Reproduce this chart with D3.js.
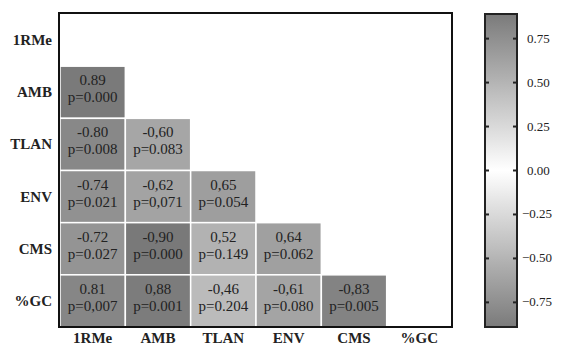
<!DOCTYPE html>
<html><head><meta charset="utf-8">
<script src="https://cdn.jsdelivr.net/npm/d3@7"></script>
<style>
html,body{margin:0;padding:0;background:#fff;overflow:hidden;}
svg{display:block;}
text{font-family:"Liberation Serif",Tinos,"Times New Roman",Times,serif;fill:#222;}
</style></head>
<body>
<svg id="chart" width="561" height="345"></svg>
<script>
const variables = ["1RMe","AMB","TLAN","ENV","CMS","%GC"];
// lower-triangle rows (row variable, then values for columns 0..row-1)
const rowAMB  = [0.89];
const rowTLAN = [-0.80, -0.60];
const rowENV  = [-0.74, -0.62, 0.65];
const rowCMS  = [-0.72, -0.90, 0.52, 0.64];
const rowGC   = [0.81, 0.88, -0.46, -0.61, -0.83];
const labAMB  = ["0.89"];
const labTLAN = ["-0.80","-0,60"];
const labENV  = ["-0.74","-0,62","0,65"];
const labCMS  = ["-0.72","-0,90","0,52","0,64"];
const labGC   = ["0.81","0,88","-0,46","-0,61","-0,83"];
const pAMB  = ["p=0.000"];
const pTLAN = ["p=0.008","p=0.083"];
const pENV  = ["p=0.021","p=0,071","p=0.054"];
const pCMS  = ["p=0.027","p=0.000","p=0.149","p=0.062"];
const pGC   = ["p=0,007","p=0.001","p=0.204","p=0.080","p=0.005"];
const colorTicks = [0.75, 0.50, 0.25, 0.00, -0.25, -0.50, -0.75];

const rows = [
  {name:"AMB", v:rowAMB, l:labAMB, p:pAMB},
  {name:"TLAN", v:rowTLAN, l:labTLAN, p:pTLAN},
  {name:"ENV", v:rowENV, l:labENV, p:pENV},
  {name:"CMS", v:rowCMS, l:labCMS, p:pCMS},
  {name:"%GC", v:rowGC, l:labGC, p:pGC}
];
const cells = [];
rows.forEach(r => r.v.forEach((val,i) => cells.push({row:r.name, col:variables[i], v:val, lab:r.l[i], p:r.p[i]})));

const svg = d3.select("#chart");
const L = 60, R = 452, T = 14, B = 327;
const x = d3.scaleBand().domain(variables).range([L, R]).paddingInner(0);
const y = d3.scaleBand().domain(variables).range([T, B]).paddingInner(0);
const color = d3.scaleLinear().domain([-0.9, 0, 0.9]).range(["#797979", "#ffffff", "#797979"]);

// cells
const g = svg.append("g");
g.selectAll("rect.cell").data(cells).join("rect")
  .attr("class","cell")
  .attr("x", d => x(d.col)).attr("y", d => y(d.row))
  .attr("width", x.bandwidth()).attr("height", y.bandwidth())
  .attr("fill", d => color(d.v))
  .attr("stroke", "#fff").attr("stroke-width", 1.5);

g.selectAll("text.r").data(cells).join("text")
  .attr("class","r")
  .attr("x", d => x(d.col) + x.bandwidth()/2)
  .attr("y", d => y(d.row) + y.bandwidth()/2 - 7)
  .attr("text-anchor","middle").attr("font-size", 15)
  .text(d => d.lab);
g.selectAll("text.p").data(cells).join("text")
  .attr("class","p")
  .attr("x", d => x(d.col) + x.bandwidth()/2)
  .attr("y", d => y(d.row) + y.bandwidth()/2 + 10)
  .attr("text-anchor","middle").attr("font-size", 15)
  .text(d => d.p);

// frame
svg.append("rect").attr("x", L-1).attr("y", T-1).attr("width", R-L+1).attr("height", B-T+1)
  .attr("fill","none").attr("stroke","#111").attr("stroke-width",2);

// axes labels
svg.append("g").selectAll("text").data(variables).join("text")
  .attr("x", 52).attr("y", d => y(d) + y.bandwidth()/2 + 5)
  .attr("text-anchor","end").attr("font-size",15).attr("font-weight","bold").attr("fill","#333")
  .text(d => d);
svg.append("g").selectAll("text").data(variables).join("text")
  .attr("x", d => x(d) + x.bandwidth()/2).attr("y", 343)
  .attr("text-anchor","middle").attr("font-size",15).attr("font-weight","bold").attr("fill","#333")
  .text(d => d);

// colorbar
const cbL = 485, cbR = 517, cbT = 14, cbB = 327;
const cy = d3.scaleLinear().domain([0.89, -0.89]).range([cbT, cbB]);
const defs = svg.append("defs");
const grad = defs.append("linearGradient").attr("id","cb").attr("x1",0).attr("y1",0).attr("x2",0).attr("y2",1);
d3.range(0, 1.0001, 0.05).forEach(t => {
  const v = cy.invert(cbT + t*(cbB-cbT));
  grad.append("stop").attr("offset", t).attr("stop-color", color(v));
});
svg.append("rect").attr("x",cbL).attr("y",cbT).attr("width",cbR-cbL).attr("height",cbB-cbT)
  .attr("fill","url(#cb)").attr("stroke","#222").attr("stroke-width",2);
const tk = svg.append("g");
tk.selectAll("line.l").data(colorTicks).join("line")
  .attr("x1", cbL).attr("x2", cbL+4).attr("y1", d=>cy(d)).attr("y2", d=>cy(d))
  .attr("stroke","#222").attr("stroke-width",2);
tk.selectAll("line.r").data(colorTicks).join("line")
  .attr("x1", cbR-4).attr("x2", cbR).attr("y1", d=>cy(d)).attr("y2", d=>cy(d))
  .attr("stroke","#222").attr("stroke-width",2);
tk.selectAll("text").data(colorTicks).join("text")
  .attr("x", d => d < 0 ? 522 : 527).attr("y", d => cy(d) + 4)
  .attr("font-size", 13).attr("fill","#333")
  .text(d => d3.format(".2f")(d));
</script>
</body></html>
